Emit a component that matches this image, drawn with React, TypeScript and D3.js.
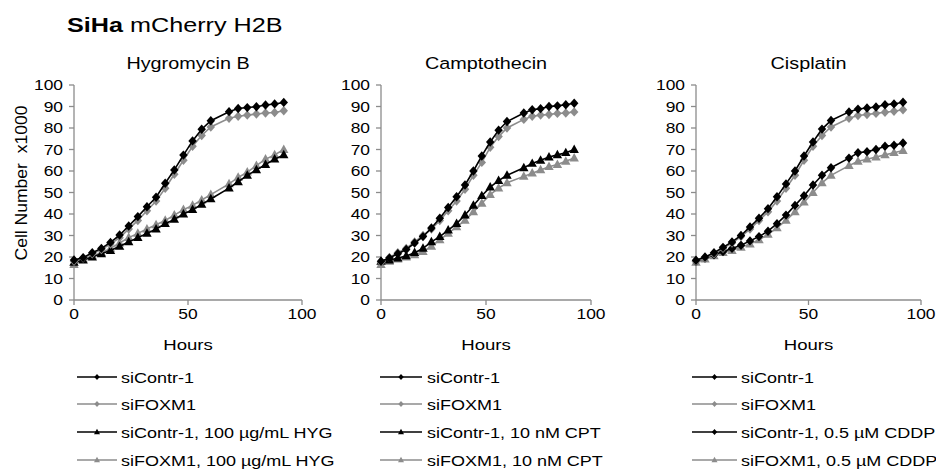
import React from "react";
import * as d3 from "d3";

const hours = [0, 4, 8, 12, 16, 20, 24, 28, 32, 36, 40, 44, 48, 52, 56, 60, 68, 72, 76, 80, 84, 88, 92];

const hygContr = [18.6, 19.7, 22, 24, 26.8, 30.2, 34.4, 38.8, 43.4, 47.8, 54.3, 60.5, 67.4, 74, 79.4, 83.4, 87.6, 89.1, 89.5, 89.9, 90.7, 91.2, 91.9];
const hygFoxm = [18, 19.5, 21.5, 23.5, 26, 29, 33, 37, 41.5, 46, 52, 58.5, 65, 71.5, 76.5, 80.5, 84.5, 85.5, 86, 86.5, 87, 87.2, 88];
const hygContrDrug = [17.5, 18.5, 20, 21.5, 23, 25, 27, 29, 31, 33, 35.5, 37.5, 40, 42, 44.5, 47, 52, 55, 58, 60.5, 63, 65.5, 67.5];
const hygFoxmDrug = [16.5, 19, 20.5, 22, 24, 26.5, 29, 31, 33, 35, 37, 39.5, 42, 44, 46.5, 49, 54, 57, 59.5, 62.5, 65.5, 67.5, 70];

const cptContr = [18, 19.5, 21.5, 23.5, 26.5, 29.5, 33.5, 38, 43, 48, 53.5, 60, 67, 73.5, 79, 83, 87, 88.5, 89, 90, 90.3, 90.8, 91.5];
const cptFoxm = [17.5, 19.8, 22, 24, 27, 30, 33, 37, 41.5, 46, 51.5, 58, 64, 71, 76, 80, 84, 85.5, 86, 86.3, 86.8, 87, 87.5];
const cptContrDrug = [18, 18.5, 19.5, 20.5, 22, 24, 27, 29.5, 32.5, 35.5, 39.5, 44, 48.5, 52.5, 55.5, 58, 61.5, 63.5, 65, 66.5, 67.5, 68.5, 70];
const cptFoxmDrug = [16.5, 18, 19, 20, 21, 22.5, 25, 28, 31, 34, 37, 41, 45, 49, 52, 54.5, 57.5, 59, 60.5, 62, 63, 64.5, 66];

const cddpContr = [18.5, 20, 22, 24.5, 27, 30, 34, 38, 42.5, 48, 54, 60, 67, 73.5, 79.5, 83.5, 87.5, 88.8, 89.3, 89.8, 90.8, 91.2, 92];
const cddpFoxm = [18, 19.5, 21.5, 24, 26.5, 29.5, 33, 37, 41, 46, 52, 58, 65, 71.5, 76.5, 80.5, 84.5, 85.8, 86.3, 86.8, 87.3, 87.8, 88.5];
const cddpContrDrug = [18, 19.5, 21, 22.5, 24, 25.5, 27.5, 29.5, 32, 35.5, 39.5, 44, 48.5, 53.5, 58, 61.5, 66, 68.5, 69, 70, 71.5, 72, 73];
const cddpFoxmDrug = [17.5, 19, 20.5, 22, 23, 24.5, 26, 28, 30.5, 33.5, 37, 41, 45.5, 50, 54.5, 58, 62.5, 64.5, 65.5, 66.5, 67.5, 68.5, 69.5];

const panelTitles = ["Hygromycin B", "Camptothecin", "Cisplatin"];
const legendLabels = [
  ["siContr-1", "siFOXM1", "siContr-1, 100 µg/mL HYG", "siFOXM1, 100 µg/mL HYG"],
  ["siContr-1", "siFOXM1", "siContr-1, 10 nM CPT", "siFOXM1, 10 nM CPT"],
  ["siContr-1", "siFOXM1", "siContr-1, 0.5 µM CDDP", "siFOXM1, 0.5 µM CDDP"],
];
const panelData = [
  [hygContr, hygFoxm, hygContrDrug, hygFoxmDrug],
  [cptContr, cptFoxm, cptContrDrug, cptFoxmDrug],
  [cddpContr, cddpFoxm, cddpContrDrug, cddpFoxmDrug],
];
const panelShapes = [
  ["diamond", "diamond", "triangle", "triangle"],
  ["diamond", "diamond", "triangle", "triangle"],
  ["diamond", "diamond", "diamond", "triangle"],
];
const seriesColors = ["#000000", "#8c8c8c", "#000000", "#8c8c8c"];
const yTicks = [0, 10, 20, 30, 40, 50, 60, 70, 80, 90, 100];
const xTicks = [0, 50, 100];

const FONT = "'Liberation Sans', Arial, sans-serif";
const AXIS = "#8c8c8c";
const SX = 1.2;

const layout = [
  { x0: 74, x1: 302, legLine: [77, 117], legText: 121 },
  { x0: 381, x1: 591, legLine: [380, 422], legText: 427 },
  { x0: 696, x1: 921, legLine: [692, 737], legText: 741 },
];
const yTop = 85;
const yBottom = 300;
const legendRows = [377, 404, 432, 460];

function T({ x, y, size, anchor = "start", children }: any) {
  return (
    <text
      transform={`translate(${x},${y}) scale(${SX},1)`}
      fontSize={size}
      textAnchor={anchor}
      fontFamily={FONT}
      fill="#000"
    >
      {children}
    </text>
  );
}

function marker(shape: string, cx: number, cy: number, s: number) {
  if (shape === "diamond") {
    return `M${cx},${cy - s}L${cx + s * 0.9},${cy}L${cx},${cy + s}L${cx - s * 0.9},${cy}Z`;
  }
  const h = s * 1.8;
  return `M${cx},${cy - h * 0.6}L${cx + s},${cy + h * 0.4}L${cx - s},${cy + h * 0.4}Z`;
}

function Panel({ idx }: { idx: number }) {
  const L = layout[idx];
  const x = d3.scaleLinear().domain([0, 100]).range([L.x0, L.x1]);
  const y = d3.scaleLinear().domain([0, 100]).range([yBottom, yTop]);
  const line = d3
    .line<[number, number]>()
    .x((d) => x(d[0]))
    .y((d) => y(d[1]));
  const order = [3, 2, 1, 0];
  return (
    <g>
      <T x={(L.x0 + L.x1) / 2} y={69} size={16.5} anchor="middle">
        {panelTitles[idx]}
      </T>
      <line x1={L.x0} x2={L.x0} y1={yTop} y2={yBottom} stroke={AXIS} strokeWidth={1.3} />
      <line x1={L.x0} x2={L.x1} y1={yBottom} y2={yBottom} stroke={AXIS} strokeWidth={1.3} />
      {yTicks.map((t) => (
        <g key={"y" + t}>
          <line x1={L.x0 - 5} x2={L.x0} y1={y(t)} y2={y(t)} stroke={AXIS} strokeWidth={1.3} />
          <T x={L.x0 - 11} y={y(t) + 5} size={14.5} anchor="end">
            {t}
          </T>
        </g>
      ))}
      {xTicks.map((t) => (
        <g key={"x" + t}>
          <line x1={x(t)} x2={x(t)} y1={yBottom} y2={yBottom + 5} stroke={AXIS} strokeWidth={1.3} />
          <T x={x(t)} y={yBottom + 19} size={14.5} anchor="middle">
            {t}
          </T>
        </g>
      ))}
      <T x={(L.x0 + L.x1) / 2} y={350} size={15.5} anchor="middle">
        Hours
      </T>
      {order.map((si) => {
        const vals = panelData[idx][si];
        const pts: [number, number][] = hours.map((h, i) => [h, vals[i]]);
        const c = seriesColors[si];
        return (
          <g key={si}>
            <path d={line(pts) || ""} fill="none" stroke={c} strokeWidth={1.6} />
            {pts.map((p, i) => (
              <path key={i} d={marker(panelShapes[idx][si], x(p[0]), y(p[1]), 4.7)} fill={c} />
            ))}
          </g>
        );
      })}
      {legendLabels[idx].map((lab, si) => {
        const cy = legendRows[si];
        const c = seriesColors[si];
        const mx = (L.legLine[0] + L.legLine[1]) / 2;
        return (
          <g key={"l" + si}>
            <line x1={L.legLine[0]} x2={L.legLine[1]} y1={cy} y2={cy} stroke={c} strokeWidth={1.6} />
            <path d={marker(panelShapes[idx][si], mx, cy, 3)} fill={c} />
            <T x={L.legText} y={cy + 5.5} size={15}>
              {lab}
            </T>
          </g>
        );
      })}
    </g>
  );
}

export default function App() {
  return (
    <svg width={936} height={471} style={{ position: "absolute", left: 0, top: 0, background: "#fff" }}>
      <rect width={936} height={471} fill="#fff" />
      <T x={67} y={32} size={21}>
        <tspan fontWeight="bold">SiHa</tspan>
        <tspan> mCherry H2B</tspan>
      </T>
      <text
        transform="translate(27,183) rotate(-90) scale(1.17,1.1)"
        fontSize={15}
        textAnchor="middle"
        fontFamily={FONT}
        xmlSpace="preserve"
      >
        Cell Number  x1000
      </text>
      {[0, 1, 2].map((i) => (
        <Panel key={i} idx={i} />
      ))}
    </svg>
  );
}
